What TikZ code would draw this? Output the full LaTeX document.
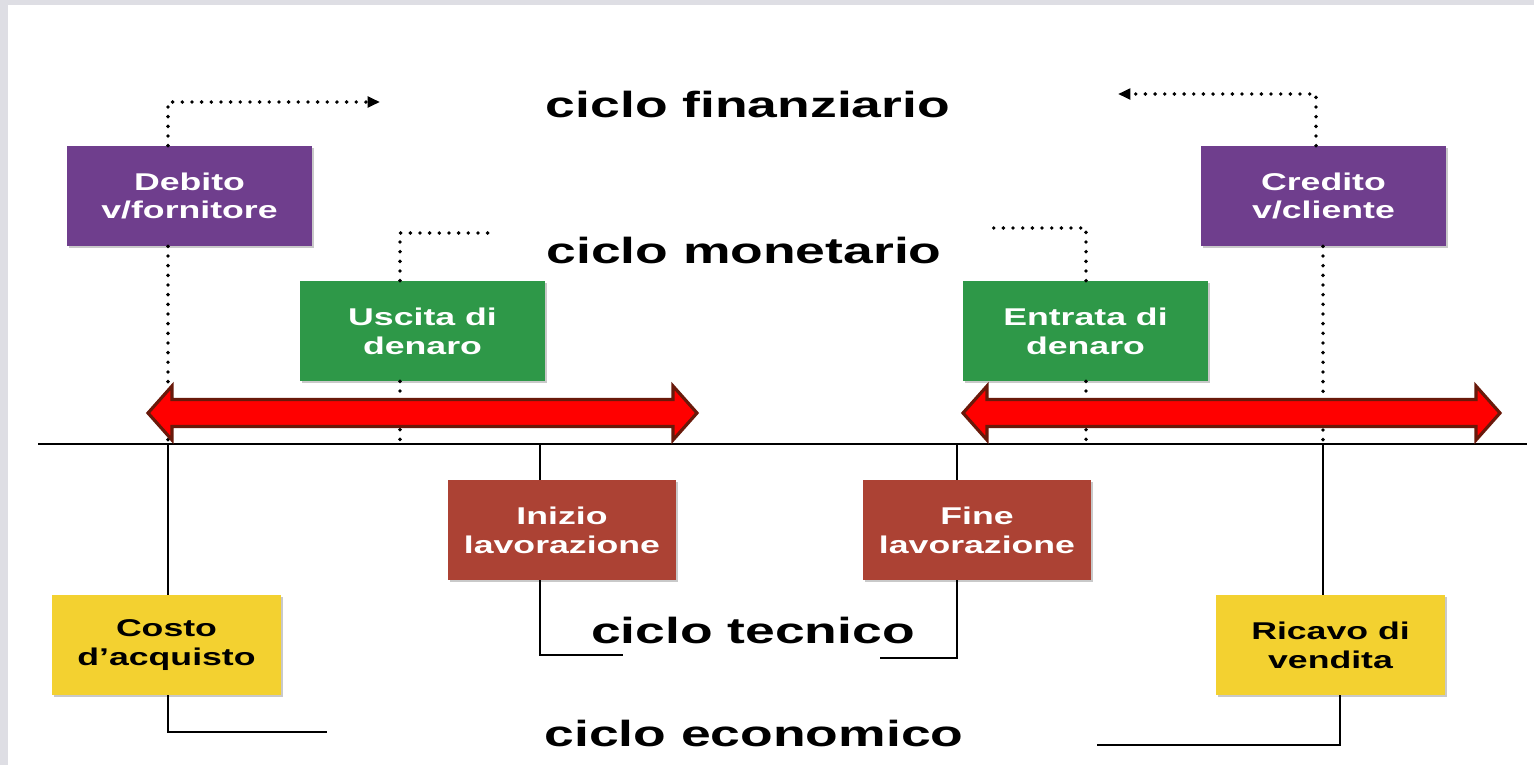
\documentclass[tikz,border=0pt]{standalone}
\usepackage{fontspec}
\setmainfont{Liberation Sans}
\usetikzlibrary{arrows.meta,shadows}
\definecolor{purp}{RGB}{111,62,141}
\definecolor{grn}{RGB}{46,152,72}
\definecolor{brn}{RGB}{172,66,52}
\definecolor{yel}{RGB}{243,209,48}
\definecolor{arrowedge}{RGB}{105,25,10}
\definecolor{bggray}{RGB}{222,222,228}
\newcommand{\sx}[1]{\scalebox{1.47}[1]{#1}}
\tikzset{
  box/.style={rectangle, minimum width=4.9cm, minimum height=2cm, inner sep=0pt,
    font=\fontsize{13.8}{16.4}\selectfont\bfseries, align=center,
    drop shadow={shadow xshift=1.1pt, shadow yshift=-1.1pt, opacity=0.35, fill=black!60}},
  narrowbox/.style={box, minimum width=4.57cm},
  purpbox/.style={box, fill=purp, text=white},
  grnbox/.style={box, fill=grn, text=white},
  brnbox/.style={narrowbox, fill=brn, text=white},
  yelbox/.style={narrowbox, fill=yel, text=black},
  title/.style={font=\fontsize{20.7}{24}\selectfont\bfseries, anchor=base, inner sep=0pt},
  dotline/.style={line width=2.2pt, dash pattern=on 0pt off 5.5pt, line cap=round},
  dotarrow/.style={dotline, -{Triangle[length=7pt,width=6pt]}},
  solidline/.style={line width=1.6pt},
  redarrow/.style={fill=red, draw=arrowedge, line width=1.8pt, line join=miter}
}
\begin{document}
\begin{tikzpicture}[x=0.02cm,y=-0.02cm]
\useasboundingbox (0,0) rectangle (1534,765);
\fill[white] (0,0) rectangle (1534,765);
\fill[bggray] (0,0) rectangle (8,765);
\fill[bggray] (0,0) rectangle (1534,5);

% titles
\node[title] (tfin) at (748,117) {\sx{ciclo finanziario}};
\node[title] (tmon) at (744,263) {\sx{ciclo monetario}};
\node[title] (ttec) at (753,643) {\sx{ciclo tecnico}};
\node[title] (teco) at (754,746) {\sx{ciclo economico}};

% boxes
\node[purpbox] (deb) at (189.5,196) {\sx{Debito}\\\sx{v/fornitore}};
\node[purpbox] (cred) at (1323.5,196) {\sx{Credito}\\\sx{v/cliente}};
\node[grnbox] (usc) at (422.5,331) {\sx{Uscita di}\\\sx{denaro}};
\node[grnbox] (ent) at (1085.5,331) {\sx{Entrata di}\\\sx{denaro}};
\node[brnbox] (ini) at (562,530) {\sx{Inizio}\\\sx{lavorazione}};
\node[brnbox] (fin) at (977,530) {\sx{Fine}\\\sx{lavorazione}};
\node[yelbox] (cos) at (166.5,645) {\sx{Costo}\\\sx{d'acquisto}};
\node[yelbox] (ric) at (1330.5,645) {\sx{Ricavo di}\\\sx{vendita}};

% coordinates
\coordinate (dbT) at (168,102);  \coordinate (dbA) at (380,102);  \coordinate (dbB) at (168,440);
\coordinate (crT) at (1316,94);  \coordinate (crA) at (1118,94);  \coordinate (crB) at (1323,440);
\coordinate (usT) at (400,233);  \coordinate (usE) at (492,233);  \coordinate (usB) at (400,440);
\coordinate (enT) at (1086,228); \coordinate (enE) at (990,228);  \coordinate (enB) at (1086,440);
\coordinate (tl) at (38,444);    \coordinate (tr) at (1527,444);
\coordinate (cosL) at (168,444); \coordinate (cosC) at (168,732); \coordinate (cosE) at (327,732);
\coordinate (iniL) at (540,444); \coordinate (iniC) at (540,655); \coordinate (iniE) at (623,655);
\coordinate (finL) at (957,444); \coordinate (finC) at (957,658); \coordinate (finE) at (880,658);
\coordinate (ricL) at (1323,444);\coordinate (ricC) at (1340,745);\coordinate (ricE) at (1097,745);

% dotted connectors
\draw[dotarrow] (deb.north -| dbT) -- (dbT) -- (dbA);
\draw[dotline] (deb.south -| dbT) -- (dbB);
\draw[dotarrow] (cred.north -| crT) -- (crT) -- (crA);
\draw[dotline] (cred.south -| crB) -- (crB);
\draw[dotline] (usc.north -| usT) -- (usT) -- (usE);
\draw[dotline] (usc.south -| usB) -- (usB);
\draw[dotline] (ent.north -| enT) -- (enT) -- (enE);
\draw[dotline] (ent.south -| enB) -- (enB);

% time line and solid connectors
\draw[solidline] (tl) -- (tr);
\draw[solidline] (cosL) -- (cos.north -| cosL);
\draw[solidline] (cos.south -| cosC) -- (cosC) -- (cosE);
\draw[solidline] (iniL) -- (ini.north -| iniL);
\draw[solidline] (ini.south -| iniC) -- (iniC) -- (iniE);
\draw[solidline] (finL) -- (fin.north -| finL);
\draw[solidline] (fin.south -| finC) -- (finC) -- (finE);
\draw[solidline] (ricL) -- (ric.north -| ricL);
\draw[solidline] (ric.south -| ricC) -- (ricC) -- (ricE);

% red double arrows
\draw[redarrow] (148,413) -- (172,386) -- (172,399.5) -- (673,399.5) -- (673,386) -- (697,413)
  -- (673,440) -- (673,426.5) -- (172,426.5) -- (172,440) -- cycle;
\draw[redarrow] (963,413) -- (987,386) -- (987,399.5) -- (1476,399.5) -- (1476,386) -- (1500,413)
  -- (1476,440) -- (1476,426.5) -- (987,426.5) -- (987,440) -- cycle;
\end{tikzpicture}
\end{document}
